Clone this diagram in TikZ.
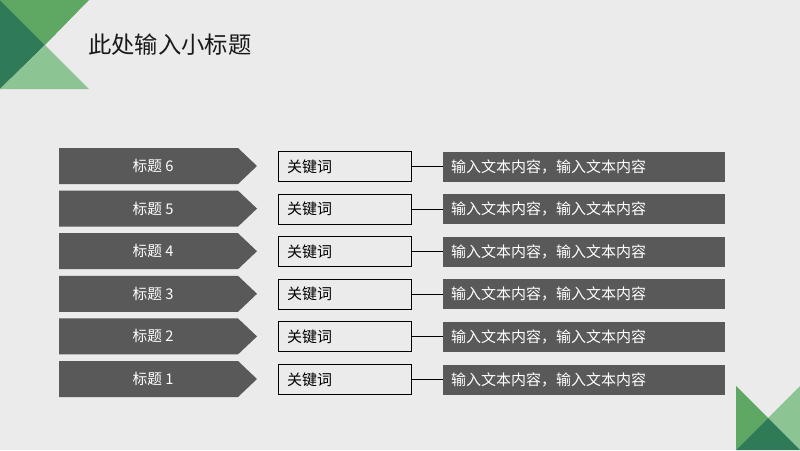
\documentclass[tikz,border=0pt]{standalone}
\usepackage{fontspec}
\setmainfont{Noto Sans CJK SC}
\definecolor{bg}{HTML}{EBEBEB}
\definecolor{dgray}{HTML}{595959}
\definecolor{gdark}{HTML}{2F7A57}
\definecolor{gmid}{HTML}{5EA864}
\definecolor{glight}{HTML}{8CC494}
\tikzset{
  arrowtxt/.style={text=white,font=\fontsize{14.7}{16}\selectfont,anchor=center},
  keybox/.style={draw=black,line width=0.9pt,minimum width=133pt,minimum height=30pt,inner sep=0pt,anchor=west},
  keytxt/.style={font=\fontsize{15}{17}\selectfont,text=black,anchor=west},
  contentbox/.style={fill=dgray,minimum width=282pt,minimum height=30pt,inner sep=0pt,anchor=west},
  contenttxt/.style={font=\fontsize{15}{17}\selectfont,text=white,anchor=west},
  link/.style={draw=black,line width=0.9pt}
}
\begin{document}
\begin{tikzpicture}[x=1pt,y=-1pt]
\fill[bg] (0,0) rectangle (800,450);
\useasboundingbox (0,0) rectangle (800,450);
% top-left decoration
\fill[gmid] (0,0) -- (89,0) -- (45,45) -- cycle;
\fill[gdark] (0,0) -- (45,45) -- (0,89) -- cycle;
\fill[glight] (45,45) -- (89,89) -- (0,89) -- cycle;
% bottom-right decoration
\fill[gmid] (736,386) -- (768,418) -- (736,450) -- cycle;
\fill[glight] (800,386) -- (800,450) -- (768,418) -- cycle;
\fill[gdark] (736,450) -- (768,418) -- (800,450) -- cycle;
% title
\node[anchor=west,font=\fontsize{23.3}{26}\selectfont,text=black!90,inner sep=0pt] (title) at (88,45) {此处输入小标题};
% rows
\foreach \i/\lab in {0/6,1/5,2/4,3/3,4/2,5/1}{
  \pgfmathsetmacro{\yc}{166+\i*42.6}
  \fill[dgray] (59,\yc-18) -- (238,\yc-18) -- (257,\yc) -- (238,\yc+18) -- (59,\yc+18) -- cycle;
  \node[arrowtxt] (a\lab) at (153,\yc) {标题 \lab};
  \node[keybox] (k\lab) at (278,\yc+0.5) {};
  \node[keytxt,inner sep=0pt] (kt\lab) at (287,\yc+0.5) {关键词};
  \node[contentbox] (c\lab) at (443,\yc+0.5) {};
  \node[contenttxt,inner sep=0pt] (ct\lab) at (451,\yc+0.5) {输入文本内容，输入文本内容};
  \draw[link] (k\lab.east) -- (c\lab.west);
}
\end{tikzpicture}
\end{document}
